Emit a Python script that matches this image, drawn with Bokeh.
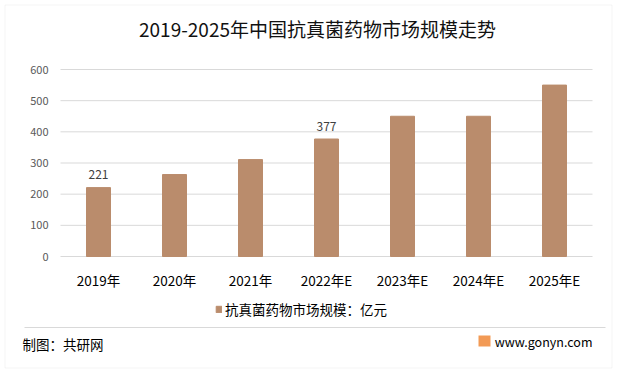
from bokeh.plotting import figure
from bokeh.models import Range1d, FixedTicker, ColumnDataSource, Label, BoxAnnotation
from bokeh.core.properties import value
from bokeh.embed import file_html
from bokeh.resources import INLINE

years = ["2019年", "2020年", "2021年", "2022年E", "2023年E", "2024年E", "2025年E"]
values = [221, 263, 311, 377, 450, 450, 550]
labels = ["221", "", "", "377", "", "", ""]
y_ticks = [0, 100, 200, 300, 400, 500, 600]
title_text = "2019-2025年中国抗真菌药物市场规模走势"
series_name = "抗真菌药物市场规模：亿元"
source_text = "制图：共研网"
site_text = "www.gonyn.com"

FONT = "Noto Sans CJK SC"
BAR = "#BA8C6C"
GRID = "#D9D9D9"

# layout: the frame fills the whole canvas; the plot area (0..7 x 0..600)
# sits inside it, axes are pinned with fixed_location
W, H = 613, 369
PX_X = 76.0            # px per category
PX_Y = 187.0 / 600.0   # px per unit
LEFT, BOTTOM = 60, H - 256  # px from canvas left / bottom to the plot area origin

x_start = -LEFT / PX_X
x_end = (W - LEFT) / PX_X
y_start = -BOTTOM / PX_Y
y_end = (H - BOTTOM) / PX_Y

xs = [i + 0.5 for i in range(len(years))]

p = figure(width=W, height=H, output_backend="svg", toolbar_location=None,
           x_range=Range1d(x_start, x_end), y_range=Range1d(y_start, y_end),
           min_border=0, min_border_left=0, min_border_right=0,
           min_border_top=0, min_border_bottom=0)
p.background_fill_color = "white"
p.border_fill_color = "white"
p.outline_line_color = None
p.grid.visible = False


def sy(page_y):
    return H - page_y


# outer border
p.add_layout(BoxAnnotation(left=4.5, right=611.5, top=sy(4.5), bottom=sy(367.5),
                           left_units="screen", right_units="screen",
                           top_units="screen", bottom_units="screen",
                           fill_alpha=0, line_color=GRID, line_width=1))

# horizontal gridlines across the plot area
p.segment(x0=[0] * len(y_ticks), x1=[len(years)] * len(y_ticks), y0=y_ticks, y1=y_ticks,
          line_color=GRID, line_width=1)

src = ColumnDataSource(dict(x=xs, top=values, lab=labels))
p.vbar(x="x", top="top", width=24 / PX_X, source=src, color=BAR, legend_label=series_name)
p.text(x="x", y="top", text="lab", source=src, text_align="center", text_baseline="middle",
       y_offset=-13, text_font_size="12px", text_color="#404040", text_font=value(FONT))

# axes
xa, ya = p.xaxis[0], p.yaxis[0]
xa.fixed_location = 0
ya.fixed_location = 0
xa.ticker = FixedTicker(ticks=xs)
xa.major_label_overrides = {x: y for x, y in zip(xs, years)}
ya.ticker = FixedTicker(ticks=y_ticks)
for ax in (xa, ya):
    ax.axis_line_color = None
    ax.major_tick_line_color = None
    ax.minor_tick_line_color = None
    ax.major_tick_out = 0
    ax.major_tick_in = 0
    ax.major_label_text_font = FONT
ya.major_label_text_font_size = "11px"
ya.major_label_text_color = "#595959"
ya.major_label_standoff = 12
xa.major_label_text_font_size = "13.5px"
xa.major_label_text_color = "#000000"
xa.major_label_standoff = 13

# legend
lg = p.legend[0]
lg.location = (215, sy(319))
lg.orientation = "horizontal"
lg.border_line_color = None
lg.background_fill_alpha = 0
lg.padding = 0
lg.margin = 0
lg.spacing = 0
lg.glyph_width = 7
lg.glyph_height = 8
lg.label_height = 19
lg.label_standoff = 3
lg.label_text_font = FONT
lg.label_text_font_size = "13.5px"
lg.label_text_color = "#000000"

# title and footer
p.add_layout(Label(x=317, y=sy(28), x_units="screen", y_units="screen", text=title_text,
                   text_align="center", text_baseline="middle", text_font=FONT,
                   text_font_size="19px", text_color="#111111"))
p.add_layout(BoxAnnotation(left=24, right=605, bottom=sy(327.5), top=sy(326.5),
                           left_units="screen", right_units="screen",
                           top_units="screen", bottom_units="screen",
                           fill_color=GRID, fill_alpha=1, line_color=None))
p.add_layout(Label(x=22, y=sy(343.5), x_units="screen", y_units="screen", text=source_text,
                   text_align="left", text_baseline="middle", text_font=FONT,
                   text_font_size="13.5px", text_color="#000000"))
p.add_layout(Label(x=592, y=sy(341), x_units="screen", y_units="screen", text=site_text,
                   text_align="right", text_baseline="middle", text_font=FONT,
                   text_font_size="12.5px", text_color="#000000"))
p.add_layout(BoxAnnotation(left=478, right=490, bottom=sy(346), top=sy(335),
                           left_units="screen", right_units="screen",
                           top_units="screen", bottom_units="screen",
                           fill_color="#F29A55", fill_alpha=1, line_color=None))

open("out.html", "w").write(file_html(p, INLINE))
